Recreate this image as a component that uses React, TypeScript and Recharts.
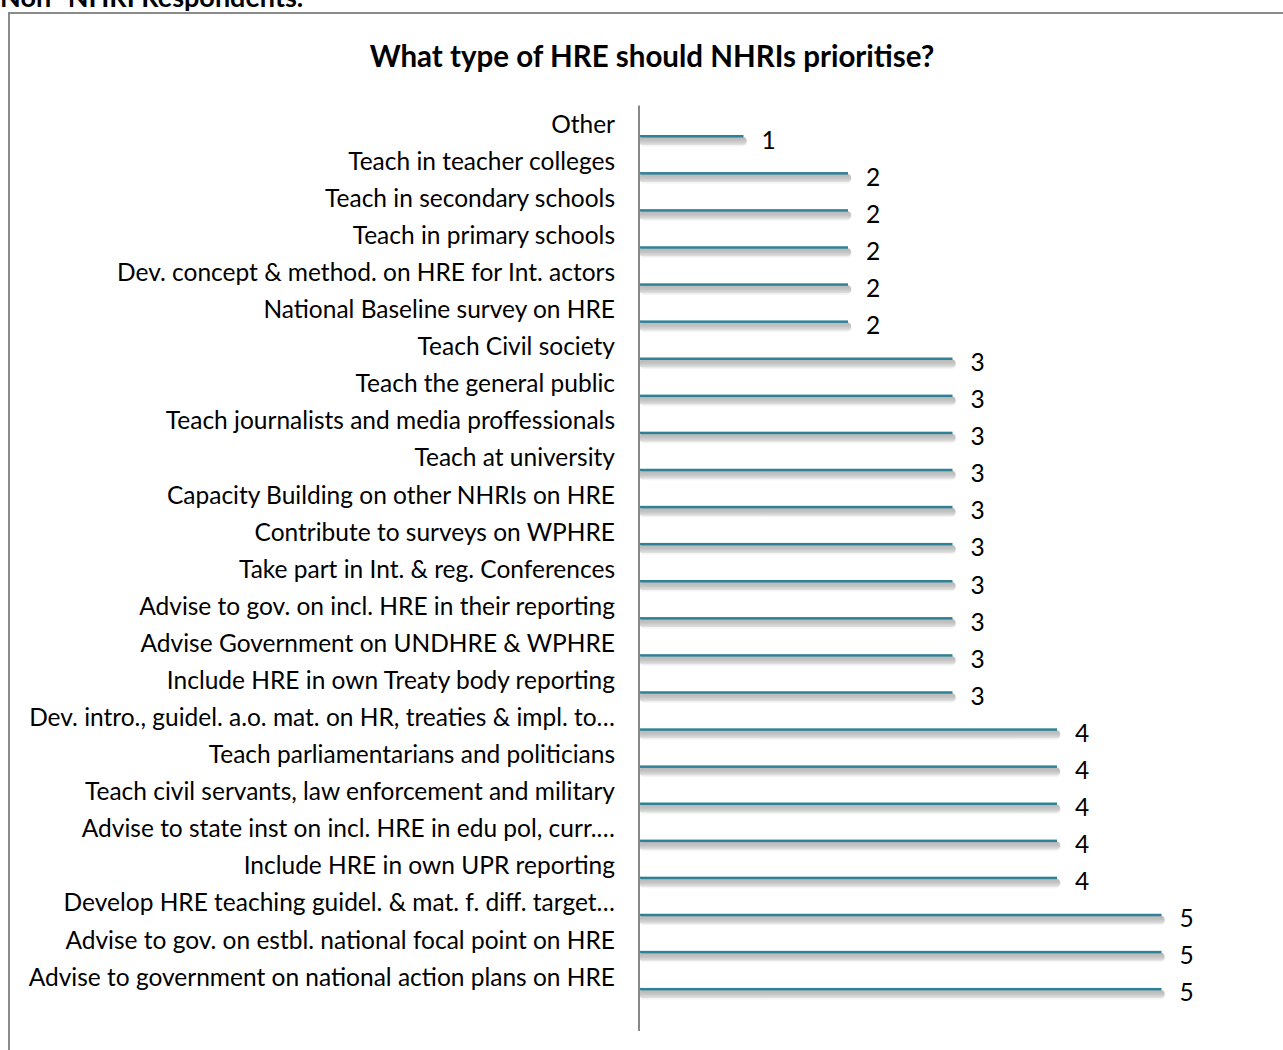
import React from 'react';
import { BarChart, Bar, XAxis, YAxis, LabelList } from 'recharts';

// Categories, top to bottom as they appear in the chart
const categories = [
  'Other ',
  'Teach in teacher colleges',
  'Teach in secondary schools',
  'Teach in primary schools',
  'Dev. concept & method. on HRE for Int. actors',
  'National Baseline survey on HRE',
  'Teach Civil society',
  'Teach the general public',
  'Teach journalists and media proffessionals',
  'Teach at university',
  'Capacity Building on other NHRIs on HRE',
  'Contribute to surveys on WPHRE',
  'Take part in Int. & reg. Conferences',
  'Advise to gov. on incl. HRE in their reporting',
  'Advise Government on UNDHRE & WPHRE',
  'Include HRE in own Treaty body reporting',
  'Dev. intro., guidel. a.o. mat. on HR, treaties & impl. to…',
  'Teach parliamentarians and politicians ',
  'Teach civil servants, law enforcement and military',
  'Advise to state inst on incl. HRE in edu pol, curr.…',
  'Include HRE in own UPR reporting ',
  'Develop HRE teaching guidel. & mat. f. diff. target…',
  'Advise to gov. on estbl. national focal point on HRE',
  'Advise to government on national action plans on HRE',
];

const counts = [1, 2, 2, 2, 2, 2, 3, 3, 3, 3, 3, 3, 3, 3, 3, 3, 4, 4, 4, 4, 4, 5, 5, 5];

const chartData = categories.map((name, i) => ({ name, count: counts[i] }));

const FONT = 'Lato, "Noto Sans", sans-serif';
const LABEL_SIZE = 24.5;

// thin teal line with a soft grey shadow underneath (Excel style)
const ShadowBar = (props: any) => {
  const { x, y, width, height } = props;
  const cy = y + height / 2;
  const top = cy + 10.5;
  return (
    <g>
      <rect x={x} y={top + 1.5} width={width + 4} height={10} rx={5} fill="#f4f4f4" />
      <rect x={x} y={top + 2} width={width + 3} height={8} rx={4} fill="url(#barShadow)" />
      <rect x={x} y={top} width={width} height={2.5} fill="#2f8196" />
    </g>
  );
};

const ValueLabel = (props: any) => {
  const { x, y, width, height, value } = props;
  return (
    <text
      x={x + width + 18}
      y={y + height / 2 + 14.5}
      dominantBaseline="central"
      fontSize={LABEL_SIZE}
      fontFamily={FONT}
      fill="#000"
    >
      {value}
    </text>
  );
};

export default function App() {
  return (
    <div style={{ position: 'absolute', left: 0, top: 0, width: 1283, height: 1050, overflow: 'hidden', background: '#fff' }}>
      <div
        style={{
          position: 'absolute', left: 0, top: -18, fontFamily: FONT, fontWeight: 700,
          fontSize: 27, lineHeight: '30px', whiteSpace: 'nowrap', color: '#000',
        }}
      >
        Non- NHRI Respondents.
      </div>
      <div
        style={{
          position: 'absolute', left: 8, top: 12, width: 1300, height: 1100,
          border: '2px solid #8a8a8a', boxSizing: 'border-box',
        }}
      />
      <div
        style={{
          position: 'absolute', left: 0, top: 39, width: 1304, textAlign: 'center',
          fontFamily: FONT, fontWeight: 700, fontSize: 29.5, lineHeight: '34px', color: '#000',
        }}
      >
        What type of HRE should NHRIs prioritise?
      </div>
      <div style={{ position: 'absolute', left: 0, top: 0 }}>
        <BarChart
          width={1283}
          height={1050}
          data={chartData}
          layout="vertical"
          margin={{ top: 105.5, right: 121.5, bottom: 54.5, left: 0 }}
        >
          <defs>
            <linearGradient id="barShadow" x1="0" y1="0" x2="0" y2="1">
              <stop offset="0%" stopColor="#b9b9b9" />
              <stop offset="45%" stopColor="#c2c2c2" />
              <stop offset="100%" stopColor="#e2e2e2" />
            </linearGradient>
          </defs>
          <XAxis type="number" domain={[0, 5]} hide />
          <YAxis
            type="category"
            dataKey="name"
            width={639}
            interval={0}
            tickLine={false}
            tickSize={0}
            tickMargin={24}
            axisLine={{ stroke: '#888888', strokeWidth: 2 }}
            tick={{ fontSize: LABEL_SIZE, fill: '#000', fontFamily: FONT }}
          />
          <Bar dataKey="count" barSize={4} shape={<ShadowBar />} isAnimationActive={false}>
            <LabelList dataKey="count" content={<ValueLabel />} />
          </Bar>
        </BarChart>
      </div>
      {/* axis line continues a little below the last category */}
      <div style={{ position: 'absolute', left: 638, top: 995, width: 2, height: 36, background: '#888888' }} />
    </div>
  );
}
